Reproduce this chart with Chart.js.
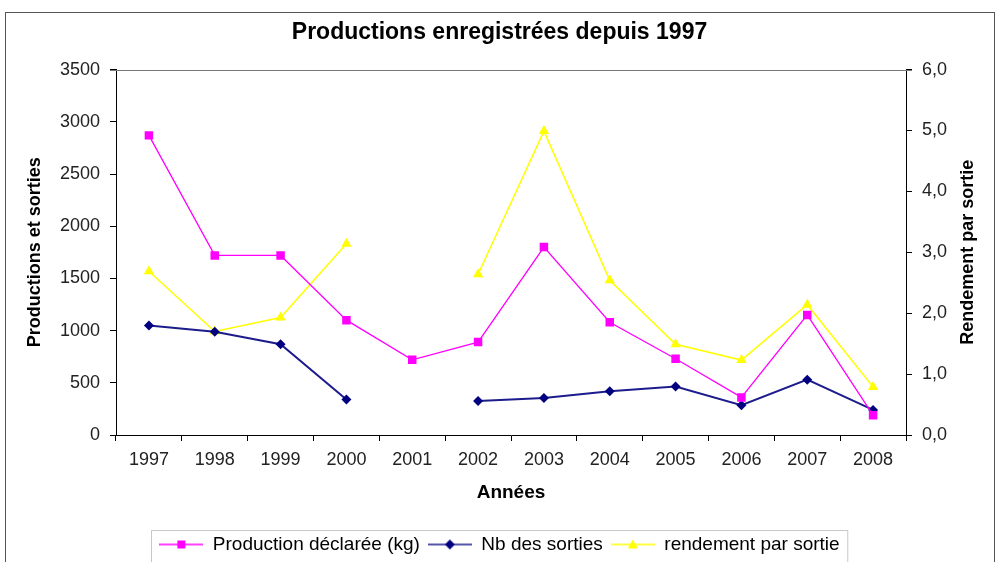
<!DOCTYPE html>
<html>
<head>
<meta charset="utf-8">
<title>Productions enregistrées depuis 1997</title>
<script src="https://cdn.jsdelivr.net/npm/chart.js@4.4.1/dist/chart.umd.min.js"></script>
<style>
  html, body { margin: 0; padding: 0; background: #fff; overflow: hidden; }
  canvas { display: block; }
</style>
</head>
<body>
<canvas id="chart" width="999" height="600"></canvas>
<script>
// --- data ---
const years = ['1997', '1998', '1999', '2000', '2001', '2002', '2003', '2004', '2005', '2006', '2007', '2008'];
const production = [2870, 1720, 1720, 1100, 720, 890, 1800, 1080, 730, 360, 1150, 190];
const sorties = [1050, 990, 870, 340, null, 325, 355, 420, 465, 285, 530, 240];
const rendement = [2.69, 1.70, 1.93, 3.14, null, 2.64, 4.99, 2.54, 1.49, 1.23, 2.14, 0.79];
const leftTicks = [0, 500, 1000, 1500, 2000, 2500, 3000, 3500];
const rightTicks = [0, 1, 2, 3, 4, 5, 6];

const FONT = "'Liberation Sans', Arial, sans-serif";

// legend icon: short line with the marker in the middle
function legendIcon(lineColor, fillColor, shape) {
    const c = document.createElement('canvas');
    c.width = 44; c.height = 14;
    const ctx = c.getContext('2d');
    ctx.strokeStyle = lineColor;
    ctx.lineWidth = 1.5;
    ctx.beginPath(); ctx.moveTo(0, 7); ctx.lineTo(44, 7); ctx.stroke();
    ctx.fillStyle = fillColor;
    ctx.beginPath();
    if (shape === 'rect') ctx.rect(18, 3, 8, 8);
    else if (shape === 'diamond') { ctx.moveTo(22, 2); ctx.lineTo(27, 7); ctx.lineTo(22, 12); ctx.lineTo(17, 7); ctx.closePath(); }
    else { ctx.moveTo(22, 2); ctx.lineTo(27, 11); ctx.lineTo(17, 11); ctx.closePath(); }
    ctx.fill();
    return c;
}

const icons = [
    legendIcon('#ff00ff', '#ff00ff', 'rect'),
    legendIcon('#1c1c8c', '#000080', 'diamond'),
    legendIcon('#ffff00', '#ffff00', 'triangle')
];

// frame, plot border, right axis title, legend box
const decorations = {
    id: 'decorations',
    beforeDraw(chart) {
        const ctx = chart.ctx;
        ctx.save();
        ctx.strokeStyle = '#555';
        ctx.lineWidth = 1;
        ctx.strokeRect(5.5, 12.5, 989, 640);
        ctx.restore();
    },
    afterDraw(chart) {
        const ctx = chart.ctx;
        const a = chart.chartArea;
        ctx.save();
        // top edge of plot area
        ctx.strokeStyle = '#777';
        ctx.lineWidth = 1;
        ctx.beginPath();
        ctx.moveTo(a.left - 6, Math.round(a.top) + 0.5);
        ctx.lineTo(a.right + 6, Math.round(a.top) + 0.5);
        ctx.stroke();

        // right axis title, reading bottom to top
        ctx.fillStyle = '#000';
        ctx.font = 'bold 18px ' + FONT;
        ctx.textAlign = 'center';
        ctx.textBaseline = 'middle';
        ctx.translate(968, (a.top + a.bottom) / 2);
        ctx.rotate(-Math.PI / 2);
        ctx.fillText('Rendement par sortie', 0, 0);
        ctx.restore();

        // legend border
        const boxes = chart.legend.legendHitBoxes;
        if (boxes && boxes.length) {
            const left = Math.min(...boxes.map(b => b.left)) - 8;
            const right = Math.max(...boxes.map(b => b.left + b.width)) + 8;
            const top = boxes[0].top - 5;
            ctx.save();
            ctx.strokeStyle = '#c8c8c8';
            ctx.strokeRect(Math.round(left) + 0.5, Math.round(top) + 0.5, right - left, 80);
            ctx.restore();
        }
    }
};

new Chart(document.getElementById('chart'), {
    type: 'line',
    data: {
        labels: years,
        datasets: [
            {
                label: 'Production déclarée (kg)',
                data: production,
                yAxisID: 'y',
                borderColor: '#ff00ff',
                backgroundColor: '#ff00ff',
                borderWidth: 1.3,
                pointStyle: 'rect',
                pointRadius: 6,
                pointBorderWidth: 0,
                tension: 0
            },
            {
                label: 'Nb des sorties',
                data: sorties,
                yAxisID: 'y',
                borderColor: '#1c1c8c',
                backgroundColor: '#000080',
                borderWidth: 2,
                pointStyle: 'rectRot',
                pointRadius: 5,
                pointBorderWidth: 0,
                tension: 0
            },
            {
                label: 'rendement par sortie',
                data: rendement,
                yAxisID: 'y1',
                borderColor: '#ffff00',
                backgroundColor: '#ffff00',
                borderWidth: 1.5,
                pointStyle: 'triangle',
                pointRadius: 6,
                pointBorderWidth: 0,
                tension: 0
            }
        ]
    },
    options: {
        responsive: false,
        animation: false,
        spanGaps: false,
        // canvas runs past the window bottom, like the cropped original
        layout: { padding: { left: 0, right: 0, top: 0, bottom: 36 } },
        plugins: {
            title: {
                display: true,
                text: 'Productions enregistrées depuis 1997',
                color: '#000',
                font: { family: FONT, size: 23, weight: 'bold' },
                padding: { top: 19, bottom: 23 }
            },
            legend: {
                position: 'bottom',
                labels: {
                    color: '#000',
                    font: { family: FONT, size: 19 },
                    usePointStyle: true,
                    pointStyleWidth: 44,
                    padding: 8,
                    generateLabels(chart) {
                        return chart.data.datasets.map((ds, i) => ({
                            text: ds.label,
                            pointStyle: icons[i],
                            fillStyle: ds.backgroundColor,
                            strokeStyle: ds.borderColor,
                            lineWidth: 0,
                            hidden: false,
                            datasetIndex: i,
                            fontColor: '#000'
                        }));
                    }
                }
            },
            tooltip: { enabled: false }
        },
        scales: {
            x: {
                offset: true,
                afterFit(scale) { scale.height = 92; },
                grid: {
                    offset: true,
                    drawOnChartArea: false,
                    drawTicks: true,
                    tickLength: 6,
                    color: '#000'
                },
                border: { display: true, color: '#000', width: 1 },
                ticks: {
                    color: '#222',
                    font: { family: FONT, size: 18 },
                    padding: 8,
                    maxRotation: 0,
                    autoSkip: false
                },
                title: {
                    display: true,
                    text: 'Années',
                    color: '#000',
                    font: { family: FONT, size: 19, weight: 'bold' },
                    padding: { top: 4, bottom: 23 }
                }
            },
            y: {
                position: 'left',
                min: 0,
                max: 3500,
                afterFit(scale) { scale.width = 116; },
                afterBuildTicks(scale) { scale.ticks = leftTicks.map(v => ({ value: v })); },
                grid: {
                    drawOnChartArea: false,
                    drawTicks: true,
                    tickLength: 6,
                    color: '#000'
                },
                border: { display: true, color: '#000', width: 1 },
                ticks: {
                    color: '#222',
                    font: { family: FONT, size: 18 },
                    padding: 10,
                    callback: v => String(v)
                },
                title: {
                    display: true,
                    text: 'Productions et sorties',
                    color: '#000',
                    font: { family: FONT, size: 18, weight: 'bold' },
                    padding: { top: 24, bottom: 4 }
                }
            },
            y1: {
                position: 'right',
                min: 0,
                max: 6,
                afterFit(scale) { scale.width = 93; },
                afterBuildTicks(scale) { scale.ticks = rightTicks.map(v => ({ value: v })); },
                grid: {
                    drawOnChartArea: false,
                    drawTicks: true,
                    tickLength: 6,
                    color: '#000'
                },
                border: { display: true, color: '#000', width: 1 },
                ticks: {
                    color: '#222',
                    font: { family: FONT, size: 18 },
                    padding: 10,
                    callback: v => v.toFixed(1).replace('.', ',')
                }
            }
        }
    },
    plugins: [decorations]
});
</script>
</body>
</html>
